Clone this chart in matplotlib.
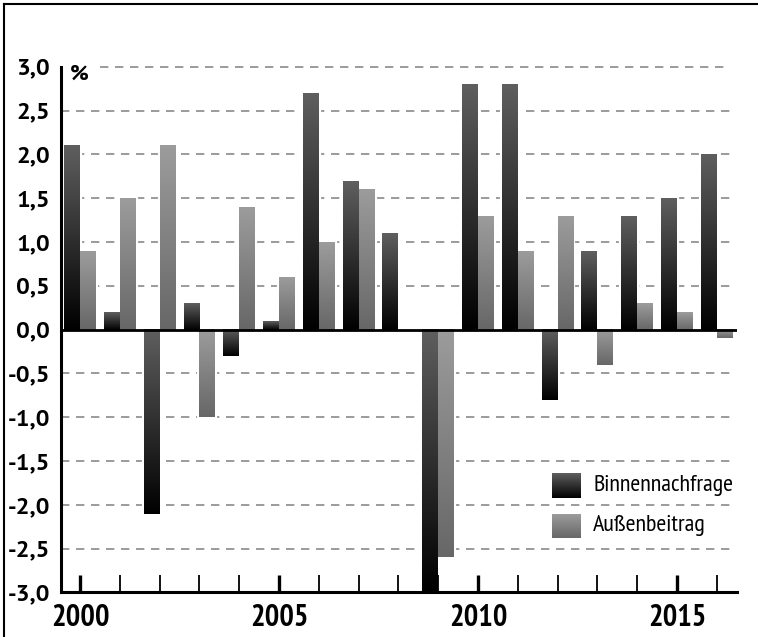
import numpy as np
import matplotlib
matplotlib.use("Agg")
import matplotlib.pyplot as plt
from matplotlib.colors import LinearSegmentedColormap
from matplotlib.lines import Line2D

years = list(range(2000, 2017))
binnennachfrage = [2.1, 0.2, -2.1, 0.3, -0.3, 0.1, 2.7, 1.7, 1.1, -3.0,
                   2.8, 2.8, -0.8, 0.9, 1.3, 1.5, 2.0]
aussenbeitrag = [0.9, 1.5, 2.1, -1.0, 1.4, 0.6, 1.0, 1.6, 0.0, -2.6,
                 1.3, 0.9, 1.3, -0.4, 0.3, 0.2, -0.1]
series_names = ["Binnennachfrage", "Außenbeitrag"]
yticks = [-3.0, -2.5, -2.0, -1.5, -1.0, -0.5, 0.0, 0.5, 1.0, 1.5, 2.0, 2.5, 3.0]
ytick_labels = ["-3,0", "-2,5", "-2,0", "-1,5", "-1,0", "-0,5", "0,0",
                "0,5", "1,0", "1,5", "2,0", "2,5", "3,0"]
xlabel_years = [2000, 2005, 2010, 2015]

YFONT = ["PT Sans", "DejaVu Sans"]
XFONT = ["PT Sans Narrow", "DejaVu Sans"]

cmap_dark = LinearSegmentedColormap.from_list("dark", ["#000000", "#5f5f5f"])
cmap_light = LinearSegmentedColormap.from_list("light", ["#676767", "#9c9c9c"])

fig = plt.figure(figsize=(7.58, 6.37), dpi=100)
ax = fig.add_axes([0.0805, 0.0699, 0.8918, 0.8254])

grad = np.linspace(0, 1, 256).reshape(-1, 1)

w = 0.4
x = np.array(years, dtype=float)
for vals, off, cmap in [(binnennachfrage, -w / 2, cmap_dark),
                        (aussenbeitrag, w / 2, cmap_light)]:
    bars = ax.bar(x + off, vals, width=w, facecolor="none",
                  edgecolor="white", linewidth=3, zorder=1)
    for p in bars.patches:
        h = p.get_height()
        if h == 0:
            continue
        x0 = p.get_x()
        y0 = p.get_y()
        lo, hi = min(y0, y0 + h), max(y0, y0 + h)
        ax.imshow(grad, extent=[x0, x0 + p.get_width(), lo, hi],
                  origin="lower", aspect="auto", cmap=cmap, zorder=2,
                  interpolation="bilinear")

ax.set_xlim(1999.52, 2016.51)
ax.set_ylim(-3.0, 3.0)

# grid lines
for yv in yticks:
    if yv in (0.0, -3.0, 3.0):
        continue
    ax.axhline(yv, color="#8a8a8a", lw=1.2, ls=(0, (5, 4)), zorder=0.5,
               xmax=0.995)
ax.axhline(3.0, xmin=0.057, xmax=0.99, color="#8a8a8a", lw=1.2,
           ls=(0, (5, 4)), zorder=0.5, clip_on=False)

ax.axhline(0.0, color="black", lw=2, zorder=3)

# spines
for s in ["top", "right"]:
    ax.spines[s].set_visible(False)
ax.spines["left"].set_linewidth(2.2)
ax.spines["bottom"].set_linewidth(2.2)
ax.spines["left"].set_zorder(4)
ax.spines["bottom"].set_zorder(4)

ax.set_yticks(yticks)
ax.set_yticklabels(ytick_labels, family=YFONT, fontweight="bold",
                   fontsize=17.5)
ax.tick_params(axis="y", length=0, pad=8)

ax.set_xticks(years)
ax.set_xticklabels([str(y) if y in xlabel_years else "" for y in years],
                   family=XFONT, fontweight="bold", fontsize=22)
ax.tick_params(axis="x", direction="in", length=12, width=1.3, pad=8,
               color="black")
for t, y in zip(ax.xaxis.get_major_ticks(), years):
    if y in xlabel_years:
        t.tick1line.set_markeredgewidth(2.4)

# percent sign
ax.text(0.013, 0.986, "%", transform=ax.transAxes, ha="left", va="center",
        family=YFONT, fontweight="bold", fontsize=16, zorder=3)

# legend
for (ylo, yhi, ytxt), cmap, name in zip(
        [(0.1797, 0.2254, 0.2026), (0.1037, 0.1493, 0.1265)],
        [cmap_dark, cmap_light], series_names):
    ax.imshow(grad, extent=[0.7263, 0.7692, ylo, yhi], origin="lower",
              aspect="auto", cmap=cmap, transform=ax.transAxes, zorder=5,
              interpolation="bilinear")
    ax.text(0.787, ytxt, name, transform=ax.transAxes, ha="left", va="center",
            family=XFONT, fontsize=17.3, zorder=5)

ax.set_xlim(1999.52, 2016.51)
ax.set_ylim(-3.0, 3.0)

# outer frame
fig.add_artist(Line2D([3.5 / 758, 3.5 / 758], [0, 1 - 3.5 / 637],
                      transform=fig.transFigure, color="black", lw=1.5))
fig.add_artist(Line2D([3.5 / 758, 1], [1 - 3.5 / 637, 1 - 3.5 / 637],
                      transform=fig.transFigure, color="black", lw=1.5))

fig.savefig("out.png", dpi=100)
